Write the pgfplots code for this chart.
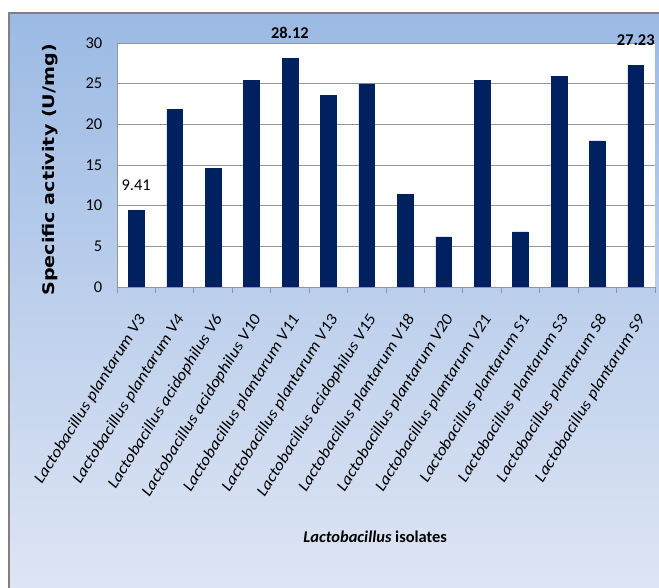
\documentclass[border=0pt]{standalone}
\usepackage{fontspec}
\usepackage{pgfplots}
\pgfplotsset{compat=1.18}
\setmainfont{Carlito}
\newfontfamily\ylabfont[FakeStretch=1.2]{DejaVu Sans Bold}
\newfontfamily\catfont[FakeStretch=1.12]{Carlito}
\definecolor{barblue}{RGB}{0,32,96}
\definecolor{frametop}{RGB}{155,186,228}
\definecolor{framebot}{RGB}{222,229,244}
\definecolor{gridgray}{RGB}{150,150,150}

\begin{document}
\begin{tikzpicture}
% chart area background and frame
\useasboundingbox (0,0) rectangle (659bp,588bp);
\fill[top color=frametop, bottom color=framebot] (9bp,0) rectangle (659bp,575bp);
\draw[gray, line width=1.6bp] (9bp,0) -- (9bp,575bp) -- (659bp,575bp);

\begin{axis}[
  at={(117bp,301bp)}, anchor=south west,
  scale only axis, width=538bp, height=244bp,
  xmin=-0.5, xmax=13.5, ymin=0, ymax=30,
  axis background/.style={fill=white},
  ybar, bar width=15.7bp,
  axis x line*=bottom, axis y line*=left,
  axis line style={gridgray, line width=0.8bp},
  xtick={0,...,13},
  xticklabels={
    Lactobacillus plantarum V3, Lactobacillus plantarum V4,
    Lactobacillus acidophilus V6, Lactobacillus acidophilus V10,
    Lactobacillus plantarum V11, Lactobacillus plantarum V13,
    Lactobacillus acidophilus V15, Lactobacillus plantarum V18,
    Lactobacillus plantarum V20, Lactobacillus plantarum V21,
    Lactobacillus plantarum S1, Lactobacillus plantarum S3,
    Lactobacillus plantarum S8, Lactobacillus plantarum S9},
  major x tick style={draw=none},
  minor xtick={-0.5,0.5,...,13.5},
  minor tick length=6bp,
  minor x tick style={gridgray, line width=0.8bp},
  tick align=outside,
  ytick={0,5,...,30},
  yticklabels={0,5,10,15,20,25,30},
  major y tick style={draw=none},
  ymajorgrids,
  grid style={gridgray, line width=0.8bp},
  yticklabel style={font=\fontsize{16.5}{18}\selectfont, xshift=-7bp},
  xticklabel style={font=\catfont\fontsize{16}{18}\selectfont\itshape, xshift=8bp, yshift=-22bp, rotate=58, anchor=east},
  ylabel={Specific activity (U/mg)},
  ylabel style={font=\ylabfont\fontsize{16}{18}\selectfont, at={(axis description cs:-0.124,0.48)}, anchor=center},
  xlabel={\textbf{\textit{Lactobacillus} isolates}},
  xlabel style={font=\fontsize{16.5}{18}\selectfont, at={(axis description cs:0.48,-1.025)}, anchor=center},
  point meta=explicit symbolic,
  nodes near coords,
  every node near coord/.append style={font=\fontsize{16.5}{18}\selectfont, black, anchor=center, yshift=25bp},
]
\addplot[fill=barblue, draw=barblue] coordinates {
  (0,9.41) [9.41]
  (1,21.85) []
  (2,14.55) []
  (3,25.40) []
  (4,28.12) [\textbf{28.12}]
  (5,23.53) []
  (6,24.97) []
  (7,11.42) []
  (8,6.15) []
  (9,25.40) []
  (10,6.77) []
  (11,25.90) []
  (12,17.96) []
  (13,27.23) [\textbf{27.23}]
};
\end{axis}
\end{tikzpicture}
\end{document}
